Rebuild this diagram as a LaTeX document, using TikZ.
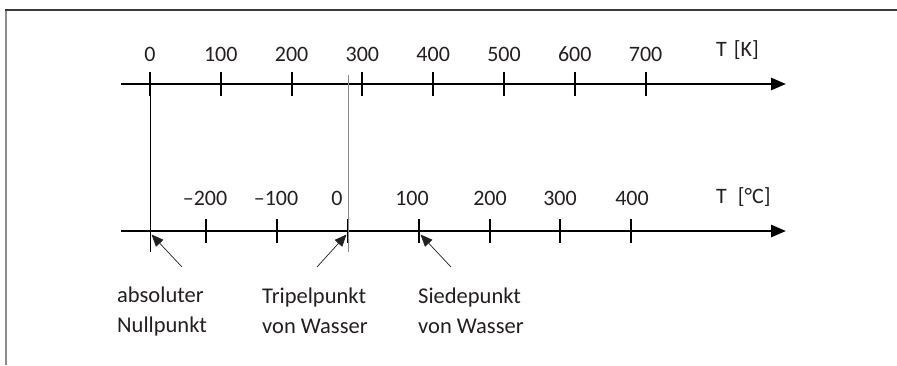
\documentclass[tikz,border=0pt]{standalone}
\usepackage{fontspec}
\setmainfont{Carlito}
\usetikzlibrary{arrows.meta}
\definecolor{ink}{HTML}{231F20}
\definecolor{framedark}{HTML}{3A3A3A}
\definecolor{framelight}{HTML}{8C8C8C}
\definecolor{guidegray}{HTML}{8A8A8A}
\begin{document}
\begin{tikzpicture}[x=1pt,y=-1pt,
  axisline/.style={line width=2.6pt, draw=black, -{Triangle[length=15pt,width=12pt]}},
  tickmark/.style={line width=1.9pt, draw=black},
  num/.style={font=\fontsize{22}{26}\selectfont, text=ink, inner sep=0pt, anchor=base},
  unitlabel/.style={font=\fontsize{22}{26}\selectfont, text=ink, inner sep=0pt, anchor=base west},
  note/.style={font=\fontsize{22.5}{30}\selectfont, text=ink, align=left, inner sep=0pt, anchor=base west},
  pointer/.style={line width=0.7pt, draw=ink, -{Triangle[length=12pt,width=10pt]}},
  guide/.style={line width=0.9pt, draw=black},
  guidegrey/.style={line width=0.9pt, draw=guidegray}
]
\useasboundingbox (0,0) rectangle (897,365);

% frame (open on the right and bottom)
\draw[line width=1.8pt, draw=framelight] (6,365) -- (6,9.6);
\draw[line width=1.8pt, draw=framedark] (5.1,9.6) -- (897,9.6);

% ---- Kelvin axis ----
\coordinate (kstart) at (121,84);
\coordinate (kend) at (786,84);
\draw[axisline] (kstart) -- (kend);
\foreach \v [count=\i from 0] in {0,100,200,300,400,500,600,700}{
  \coordinate (k\v) at ({150+70.8*\i},84);
  \draw[tickmark] ([yshift=12pt]k\v) -- ([yshift=-12pt]k\v);
  \node[num] (lk\v) at ({150+70.8*\i},61) {\v};
}
\node[unitlabel] (unitK) at (716,56) {T\hspace{7pt}[K]};

% ---- Celsius axis ----
\coordinate (cstart) at (121,231);
\coordinate (cend) at (786,231);
\draw[axisline] (cstart) -- (cend);
\foreach \v [count=\i from -2] in {-200,-100,0,100,200,300,400}{
  \coordinate (c\v) at ({348+70.8*\i},231);
  \draw[tickmark] ([yshift=12pt]c\v) -- ([yshift=-12pt]c\v);
}
\node[num] (lcm200) at (205,205) {–200};
\node[num] (lcm100) at (276,205) {–100};
\node[num] (lc0)    at (337,205) {0};
\node[num] (lc100)  at (412,205) {100};
\node[num] (lc200)  at (490,205) {200};
\node[num] (lc300)  at (560,205) {300};
\node[num] (lc400)  at (632,205) {400};
\node[unitlabel] (unitC) at (716,203) {T\hspace{11pt}[°C]};

% ---- links between the scales ----
\coordinate (absbot) at (150,252);
\coordinate (tripletop) at (348,75);
\coordinate (triplebot) at (348,252);
\draw[guide] (k0) -- (absbot);
\draw[guidegrey] (tripletop) -- (triplebot);

% ---- annotations (anchored at the baseline of their last line) ----
\node[note] (absnote) at (117,332) {absoluter\\Nullpunkt};
\node[note] (triplenote) at (262,333) {Tripelpunkt\\von Wasser};
\node[note] (boilnote) at (418,333) {Siedepunkt\\von Wasser};

\coordinate (absfrom) at (182,267);
\coordinate (absto) at (151.5,234.5);
\coordinate (triplefrom) at (317,267);
\coordinate (tripleto) at (346.5,234.5);
\coordinate (boilfrom) at (451,267);
\coordinate (boilto) at (420.5,234.5);
\draw[pointer] (absfrom) -- (absto);
\draw[pointer] (triplefrom) -- (tripleto);
\draw[pointer] (boilfrom) -- (boilto);
\end{tikzpicture}
\end{document}
